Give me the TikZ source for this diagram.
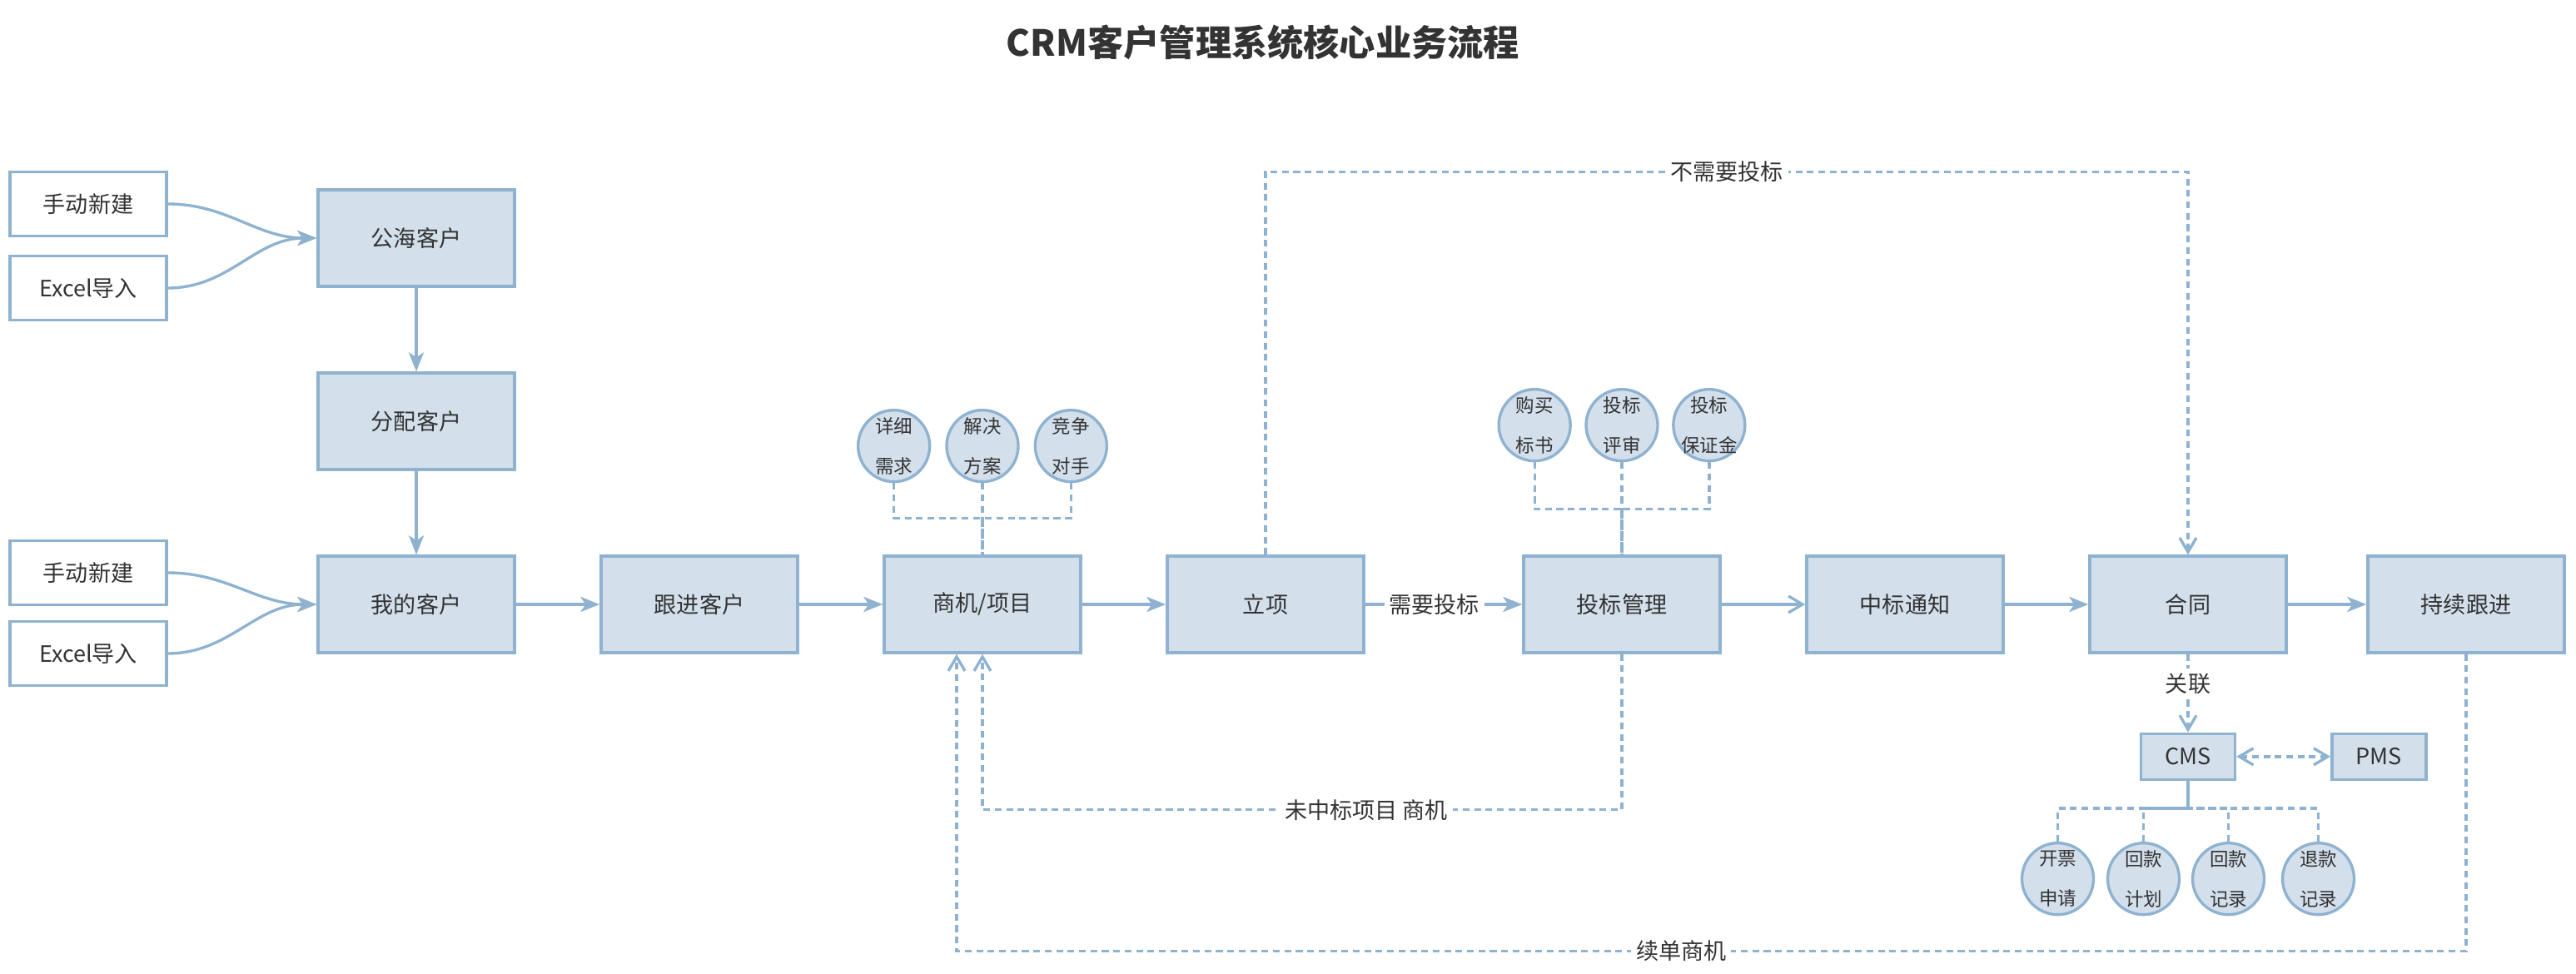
\documentclass[tikz,border=0pt]{standalone}
\usepackage{fontspec}
\setmainfont{Noto Sans CJK SC}
\usepackage{tikz}
\usetikzlibrary{arrows.meta}
\usetikzlibrary{positioning}
\definecolor{edge}{HTML}{8EB2D0}
\definecolor{pale}{HTML}{D3DFEB}
\definecolor{ink}{HTML}{333333}
\tikzstyle{arrow} = [line width=0.95pt, draw=edge, -{Stealth[length=0.23cm, width=0.18cm, inset=0.06cm]}]
\tikzstyle{openarrow} = [line width=0.95pt, draw=edge, -{Straight Barb[length=0.17cm, width=0.2cm]}]
\tikzstyle{dashline} = [line width=0.95pt, draw=edge, dash pattern=on 2.3pt off 1.6pt]
\tikzstyle{dasharrow} = [dashline, -{Straight Barb[length=0.17cm, width=0.2cm]}]
\tikzstyle{dashboth} = [dashline, {Straight Barb[length=0.17cm, width=0.2cm]}-{Straight Barb[length=0.17cm, width=0.2cm]}]
\tikzstyle{stage} = [
    rectangle, minimum width=2.36cm, minimum height=1.16cm,
    draw=edge, fill=pale, line width=0.95pt]
\tikzstyle{source} = [
    rectangle, minimum width=1.88cm, minimum height=0.77cm,
    draw=edge, fill=white, line width=0.95pt]
\tikzstyle{sys} = [
    rectangle, minimum width=1.13cm, minimum height=0.55cm,
    draw=edge, fill=pale, line width=0.95pt]
\tikzstyle{bubble} = [
    circle, minimum size=0.86cm, inner sep=0pt, draw=edge, fill=pale,
    line width=0.95pt, align=center, font=\fontsize{6.4}{13.6}\selectfont]
\tikzstyle{tag} = [fill=white, inner sep=0.06cm]

\begin{document}
\begin{tikzpicture}[font=\fontsize{7.7}{9.2}\selectfont, text=ink, node distance=3.4cm]
\useasboundingbox (0,0) rectangle (30.94,-11.70);

\node (title) at (15.17,-0.51) {\fontsize{12.3}{14}\selectfont\bfseries CRM客户管理系统核心业务流程};

% main flow
\node (mine) [stage] at (5.00,-7.26) {我的客户};
\node (follow) [stage, right of=mine] {跟进客户};
\node (deal) [stage, right of=follow] {商机/项目};
\node (setup) [stage, right of=deal] {立项};
\node (bid) [stage, right of=setup, node distance=4.28cm] {投标管理};
\node (won) [stage, right of=bid] {中标通知};
\node (contract) [stage, right of=won] {合同};
\node (keep) [stage, right of=contract, node distance=3.34cm] {持续跟进};

% customer pool
\node (assign) [stage, above of=mine, node distance=2.2cm] {分配客户};
\node (pool) [stage, above of=assign, node distance=2.2cm] {公海客户};
\node (manual1) [source, left of=pool, node distance=3.94cm, yshift=0.41cm] {手动新建};
\node (excel1) [source, left of=pool, node distance=3.94cm, yshift=-0.6cm] {Excel导入};
\node (manual2) [source, left of=mine, node distance=3.94cm, yshift=0.38cm] {手动新建};
\node (excel2) [source, left of=mine, node distance=3.94cm, yshift=-0.59cm] {Excel导入};

% details
\node (plan) [bubble, above=0.86cm of deal] {解决\\方案};
\node (need) [bubble, left=0.17cm of plan] {详细\\需求};
\node (rival) [bubble, right=0.17cm of plan] {竞争\\对手};

\node (review) [bubble, above=1.11cm of bid] {投标\\评审};
\node (buy) [bubble, left=0.155cm of review] {购买\\标书};
\node (bond) [bubble, right=0.155cm of review] {投标\\\makebox[0.44cm]{保证金}};

\node (cms) [sys, below=0.94cm of contract] {CMS};
\node (pms) [sys, right=1.13cm of cms] {PMS};
\node (invoice) [bubble, below=0.73cm of cms, xshift=-1.565cm] {开票\\申请};
\node (payplan) [bubble, below=0.73cm of cms, xshift=-0.535cm] {回款\\计划};
\node (paylog) [bubble, below=0.73cm of cms, xshift=0.485cm] {回款\\记录};
\node (refund) [bubble, below=0.73cm of cms, xshift=1.565cm] {退款\\记录};

\draw [arrow] (manual1.east) to[out=0, in=180] (pool.west);
\draw [arrow] (excel1.east) to[out=0, in=180] (pool.west);
\draw [arrow] (manual2.east) to[out=0, in=180] (mine.west);
\draw [arrow] (excel2.east) to[out=0, in=180] (mine.west);
\draw [arrow] (pool) -- (assign);
\draw [arrow] (assign) -- (mine);
\draw [arrow] (mine) -- (follow);
\draw [arrow] (follow) -- (deal);
\draw [arrow] (deal) -- (setup);
\draw [arrow] (setup) -- node[tag, pos=0.44] {需要投标} (bid);
\draw [openarrow] (bid) -- (won);
\draw [arrow] (won) -- (contract);
\draw [arrow] (contract) -- (keep);

\draw [dashline] (need.south) -- ++(0,-0.42) -| (deal.north);
\draw [dashline] (plan) -- (deal);
\draw [dashline] (rival.south) -- ++(0,-0.42) -| (deal.north);
\draw [dashline] (buy.south) -- ++(0,-0.56) -| (bid.north);
\draw [dashline] (review) -- (bid);
\draw [dashline] (bond.south) -- ++(0,-0.56) -| (bid.north);

\draw [dasharrow] (setup.north) -- ++(0,4.6) -| node[tag, pos=0.25] {不需要投标} (contract.north);
\draw [dasharrow] (bid.south) -- ++(0,-1.87) -| node[tag, pos=0.2] {未中标项目 商机} (deal.south);
\draw [dasharrow] (keep.south) -- ++(0,-3.57) -| node[tag, pos=0.26] {续单商机} ([xshift=-0.31cm]deal.south);
\draw [dasharrow] (contract) -- node[tag, pos=0.38] {关联} (cms);
\draw [dashboth] (cms) -- (pms);

\draw [dashline] (invoice.north) -- ++(0,0.4) -| (cms.south);
\draw [dashline] (payplan.north) -- ++(0,0.4) -| (cms.south);
\draw [dashline] (paylog.north) -- ++(0,0.4) -| (cms.south);
\draw [dashline] (refund.north) -- ++(0,0.4) -| (cms.south);
\end{tikzpicture}
\end{document}
